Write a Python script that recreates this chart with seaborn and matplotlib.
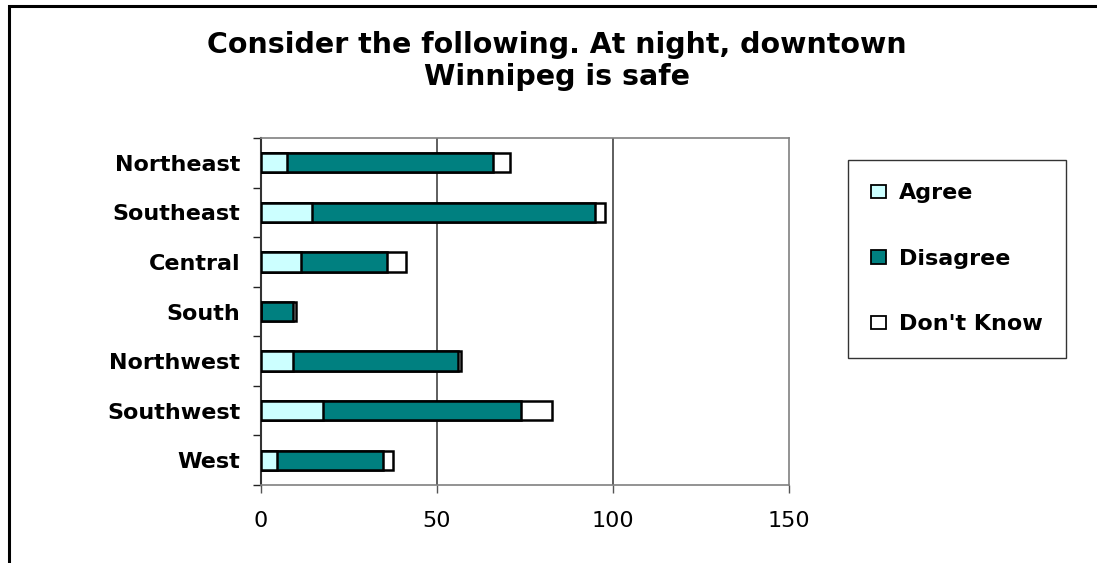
import matplotlib
matplotlib.use("Agg")
import matplotlib.pyplot as plt
import matplotlib.patches as mpatches
import seaborn as sns
import pandas as pd
import numpy as np

regions = ["Northeast", "Southeast", "Central", "South", "Northwest", "Southwest", "West"]
agree = [7.5, 14.6, 11.5, 0.0, 9.1, 17.7, 4.5]
disagree = [58.5, 80.4, 24.3, 9.1, 46.9, 56.2, 30.3]
dont_know = [4.8, 2.6, 5.4, 0.9, 0.9, 8.8, 2.6]
series = ["Agree", "Disagree", "Don't Know"]
colors = ["#CCFFFF", "#008080", "#FFFFFF"]
xticks = [0, 50, 100, 150]
title = "Consider the following. At night, downtown\nWinnipeg is safe"

sns.set_theme(style="white")
plt.rcParams["font.family"] = ["DejaVu Sans"]
plt.rcParams["text.color"] = "black"
plt.rcParams["xtick.labelcolor"] = "black"
plt.rcParams["ytick.labelcolor"] = "black"

df = pd.DataFrame({"region": regions, "Agree": agree, "Disagree": disagree, "Don't Know": dont_know})
df["c1"] = df["Agree"]
df["c2"] = df["Agree"] + df["Disagree"]
df["c3"] = df["c2"] + df["Don't Know"]

fig = plt.figure(figsize=(10.97, 5.63), dpi=100)
ax = fig.add_axes([261/1097, 1-485/563, 528/1097, 347/563])

for col, c in zip(["c3", "c2", "c1"], [colors[2], colors[1], colors[0]]):
    sns.barplot(data=df, x=col, y="region", orient="h", order=regions, color=c,
                width=0.39, edgecolor="black", linewidth=1.8, saturation=1, ax=ax, zorder=3)

ax.set_xlim(0, 150)
ax.set_ylim(len(regions) - 0.5, -0.5)
ax.set_xticks(xticks)
ax.set_xticklabels([str(v) for v in xticks], fontsize=16, color="black")
ax.set_xlabel("")
ax.set_ylabel("")
ax.set_yticks(range(len(regions)))
ax.set_yticklabels(regions, fontsize=16, fontweight="bold", color="black")
ax.tick_params(axis="y", which="major", length=0, pad=15)
ax.set_yticks(np.arange(-0.5, len(regions), 1.0), minor=True)
ax.tick_params(axis="y", which="minor", length=6, width=1, color="#222222", left=True)
ax.tick_params(axis="x", which="major", length=6, width=1, color="#555555", bottom=True, pad=13)

for v in [50, 100]:
    ax.axvline(v, color="#333333", linewidth=1.1, zorder=1)

for s in ["top", "right", "bottom"]:
    ax.spines[s].set_color("#808080")
    ax.spines[s].set_linewidth(1.2)
ax.spines["left"].set_color("#333333")
ax.spines["left"].set_linewidth(1.5)
ax.grid(False)

fig.text(557/1097, 1-61/563, title, ha="center", va="center", fontsize=20.5,
         fontweight="bold", linespacing=1.2, color="black")

handles = [mpatches.Patch(facecolor=c, edgecolor="black", linewidth=1.3, label=s)
           for s, c in zip(series, colors)]
leg = fig.legend(handles=handles, loc="upper left", bbox_to_anchor=(848/1097, 1-160/563),
                 frameon=True, fancybox=False, prop={"weight": "bold", "size": 16},
                 handlelength=0.65, handleheight=0.55, handletextpad=0.6,
                 labelspacing=2.05, borderpad=1.05, borderaxespad=0)
leg.get_frame().set_edgecolor("black")
leg.get_frame().set_linewidth(1.0)
for t in leg.get_texts():
    t.set_color("black")

border = mpatches.Rectangle((9/1097, -0.2), 1.5, 1.2 - 6/563, transform=fig.transFigure,
                            fill=False, edgecolor="black", linewidth=2.2, clip_on=False)
fig.patches.append(border)

fig.savefig("out.png", dpi=100, facecolor="white")
